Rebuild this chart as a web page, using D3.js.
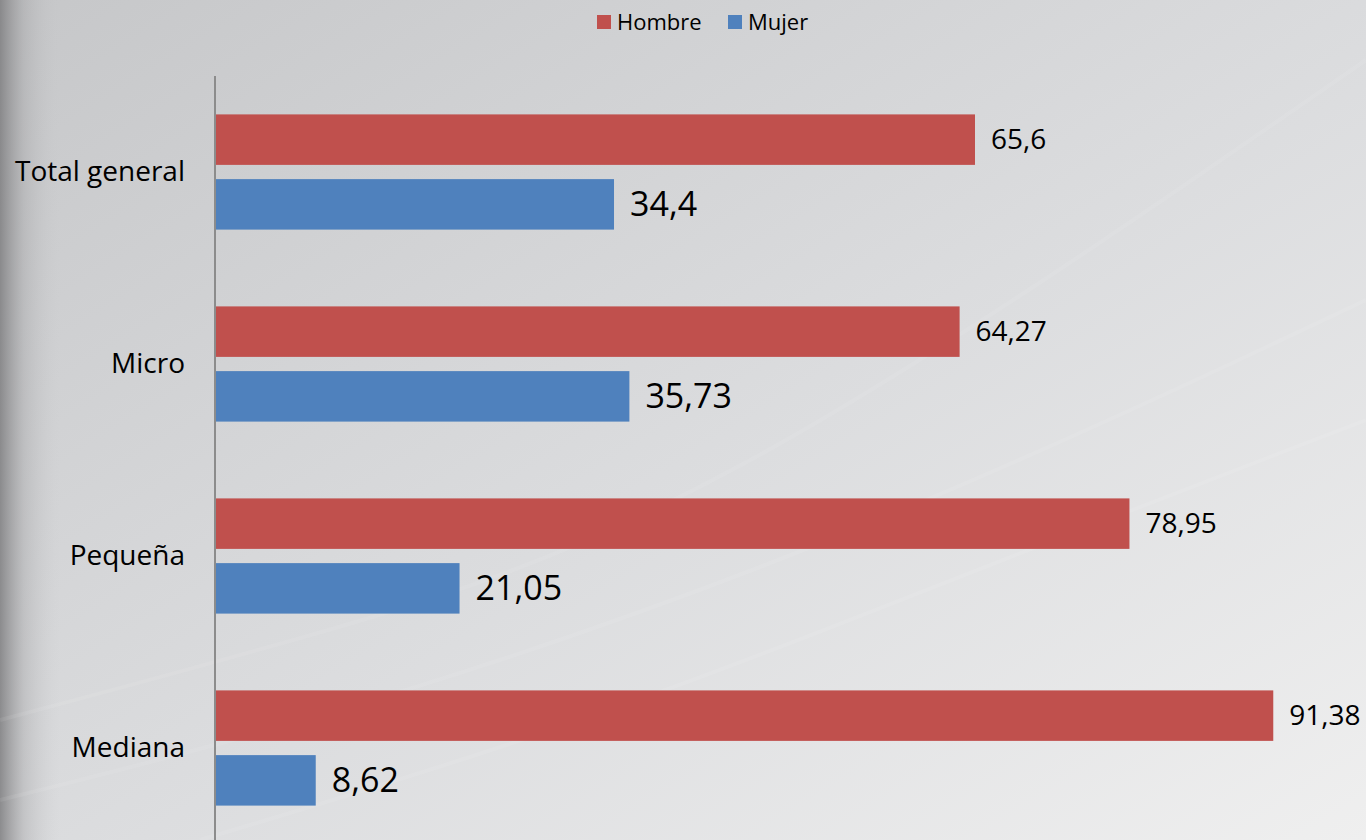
<!DOCTYPE html>
<html>
<head>
<meta charset="utf-8">
<script src="https://cdn.jsdelivr.net/npm/d3@7"></script>
<style>
  html, body { margin: 0; padding: 0; overflow: hidden; }
  #vis-container { width: 1366px; height: 840px; }
</style>
</head>
<body>
<div id="vis-container"></div>
<script>
// chart size
const width = 1366;
const height = 840;
const margin = {left: 216, right: -7, top: 76, bottom: -4};

// data
const categories = ["Total general", "Micro", "Pequeña", "Mediana"];
const seriesNames = ["Hombre", "Mujer"];
const hombre = [65.6, 64.27, 78.95, 91.38];
const mujer = [34.4, 35.73, 21.05, 8.62];
const seriesColors = ["#C0504D", "#4F81BD"];

const rows = categories.map((c, i) => ({cat: c, Hombre: hombre[i], Mujer: mujer[i]}));
const fmt = v => String(v).replace(".", ",");

const svg = d3.select("#vis-container")
  .append("svg")
  .attr("width", width)
  .attr("height", height)
  .attr("viewBox", [0, 0, width, height]);

// background: light grey with darker strip at the left
const defs = svg.append("defs");
const bgGrad = defs.append("linearGradient")
  .attr("id", "bg")
  .attr("x1", "0").attr("y1", "0").attr("x2", "1").attr("y2", "1");
bgGrad.append("stop").attr("offset", "0%").attr("stop-color", "#c6c7c9");
bgGrad.append("stop").attr("offset", "55%").attr("stop-color", "#dcdddf");
bgGrad.append("stop").attr("offset", "100%").attr("stop-color", "#efefef");

const edge = defs.append("linearGradient")
  .attr("id", "edge")
  .attr("x1", "0").attr("y1", "0").attr("x2", "1").attr("y2", "0");
edge.append("stop").attr("offset", "0%").attr("stop-color", "#7e7e80").attr("stop-opacity", 0.85);
edge.append("stop").attr("offset", "40%").attr("stop-color", "#9a9a9c").attr("stop-opacity", 0.35);
edge.append("stop").attr("offset", "100%").attr("stop-color", "#c6c7c9").attr("stop-opacity", 0);

svg.append("rect").attr("width", width).attr("height", height).attr("fill", "url(#bg)");
svg.append("rect").attr("width", 60).attr("height", height).attr("fill", "url(#edge)");

// faint swooshes in the background
const swoosh = d3.line().curve(d3.curveBasis);
[
  [[0, 720], [300, 640], [700, 520], [1366, 60]],
  [[0, 800], [400, 700], [900, 520], [1366, 300]],
  [[200, 840], [600, 720], [1000, 560], [1366, 420]]
].forEach(p => {
  svg.append("path")
    .attr("d", swoosh(p))
    .attr("fill", "none")
    .attr("stroke", "#ffffff")
    .attr("stroke-opacity", 0.08)
    .attr("stroke-width", 4);
});

// scales
const x = d3.scaleLinear()
  .domain([0, 100])
  .range([margin.left, width - margin.right]);

const y = d3.scaleBand()
  .domain(categories)
  .range([margin.top, height - margin.bottom])
  .paddingInner(0.4)
  .paddingOuter(0.2);

const ySub = d3.scaleBand()
  .domain(seriesNames)
  .range([0, y.bandwidth()])
  .paddingInner(0.22);

const color = d3.scaleOrdinal().domain(seriesNames).range(seriesColors);

// bars
const groups = svg.selectAll(".grp")
  .data(rows)
  .enter()
  .append("g")
  .attr("class", "grp")
  .attr("transform", d => `translate(0,${y(d.cat)})`);

groups.selectAll("rect")
  .data(d => seriesNames.map(s => ({key: s, value: d[s]})))
  .enter()
  .append("rect")
  .attr("x", x(0))
  .attr("y", d => ySub(d.key))
  .attr("width", d => x(d.value) - x(0))
  .attr("height", ySub.bandwidth())
  .attr("fill", d => color(d.key));

// value labels (Mujer ones are bigger in the original)
groups.selectAll("text")
  .data(d => seriesNames.map(s => ({key: s, value: d[s]})))
  .enter()
  .append("text")
  .attr("x", d => x(d.value) + 16)
  .attr("y", d => ySub(d.key) + ySub.bandwidth() / 2)
  .attr("dy", "0.35em")
  .attr("font-family", "'Open Sans', sans-serif")
  .attr("font-size", d => d.key === "Hombre" ? "28px" : "34px")
  .attr("fill", "#000")
  .text(d => fmt(d.value));

// y axis: only the line plus category labels
const yAxis = svg.append("g")
  .attr("transform", `translate(${margin.left - 1},0)`)
  .call(d3.axisLeft(y).tickSize(0).tickPadding(30));
yAxis.select(".domain")
  .attr("d", `M0,${margin.top}V${height + 10}`)
  .attr("stroke", "#8c8c8c")
  .attr("stroke-width", 2);
yAxis.selectAll("text")
  .attr("font-family", "'Open Sans', sans-serif")
  .attr("font-size", "28px")
  .attr("fill", "#000");

// legend
const legend = svg.append("g").attr("transform", "translate(597,22)");
const legendX = [0, 131];
seriesNames.forEach((s, i) => {
  const g = legend.append("g").attr("transform", `translate(${legendX[i]},0)`);
  g.append("rect").attr("x", 0).attr("y", -7).attr("width", 14).attr("height", 14).attr("fill", color(s));
  g.append("text")
    .attr("x", 20)
    .attr("y", 0)
    .attr("dy", "0.35em")
    .attr("font-family", "'Open Sans', sans-serif")
    .attr("font-size", "22px")
    .attr("fill", "#000")
    .text(s);
});
</script>
</body>
</html>
